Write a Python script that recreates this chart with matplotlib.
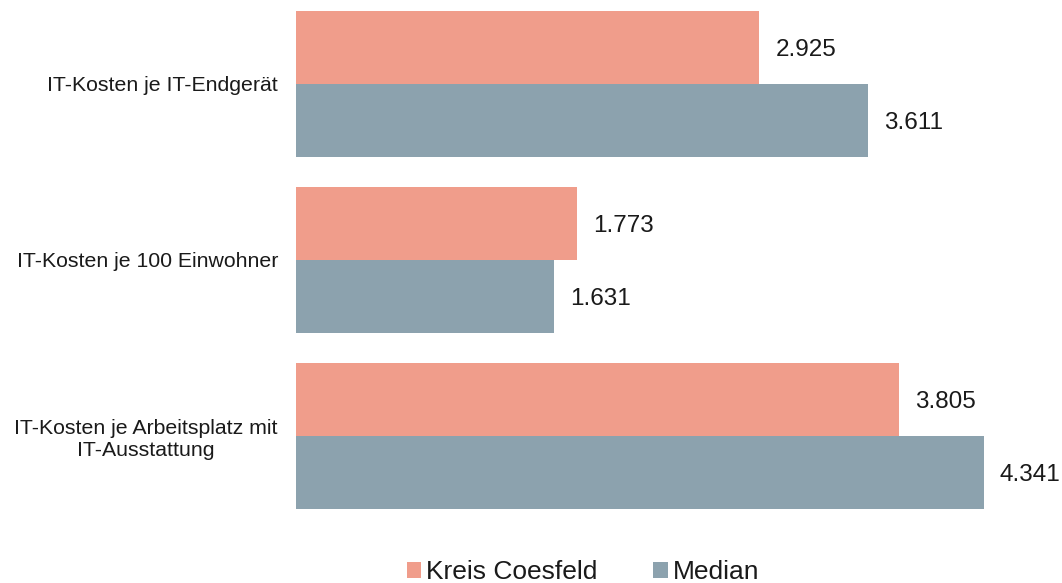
import numpy as np
import matplotlib.pyplot as plt

plt.rcParams['font.family'] = ['Liberation Sans', 'DejaVu Sans']

# data
categories = ['IT-Kosten je IT-Endgerät',
              'IT-Kosten je 100 Einwohner',
              'IT-Kosten je Arbeitsplatz mit\nIT-Ausstattung']
kreis = [2925, 1773, 3805]
median = [3611, 1631, 4341]
series_names = ['Kreis Coesfeld', 'Median']

col_kreis = '#F09D8B'
col_median = '#8CA2AE'
txt_col = '#1a1a1a'

fig = plt.figure(figsize=(10.62, 5.83), dpi=100)
ax = fig.add_axes([0.2787, 0.1012, 0.716, 0.9057])

y = np.arange(len(categories))
h = 0.415
b1 = ax.barh(y - h / 2, kreis, height=h, color=col_kreis, label=series_names[0])
b2 = ax.barh(y + h / 2, median, height=h, color=col_median, label=series_names[1])

# value labels
for bars, vals in [(b1, kreis), (b2, median)]:
    for bar, v in zip(bars, vals):
        lbl = f'{v / 1000:.3f}'
        ax.annotate(lbl, (bar.get_width(), bar.get_y() + bar.get_height() / 2),
                    xytext=(11.5, -1.5), textcoords='offset points',
                    ha='left', va='center', fontsize=17.5, color=txt_col,
                    annotation_clip=False)

ax.set_xlim(0, 4800)
ax.set_ylim(2.5, -0.5)
ax.set_yticks(y)
ax.set_yticklabels(categories, fontsize=15.3, color=txt_col,
                   multialignment='center')
ax.tick_params(axis='y', length=0, pad=13)
ax.set_xticks([])
for s in ax.spines.values():
    s.set_visible(False)

fig.legend(handles=[b1, b2], labels=series_names, loc='center',
           bbox_to_anchor=(583 / 1062, 1 - 572 / 583), ncol=2, frameon=False,
           fontsize=19, handlelength=0.55, handleheight=0.55,
           handletextpad=0.2, columnspacing=2.1, labelcolor=txt_col)

fig.savefig('out.png', dpi=100)
